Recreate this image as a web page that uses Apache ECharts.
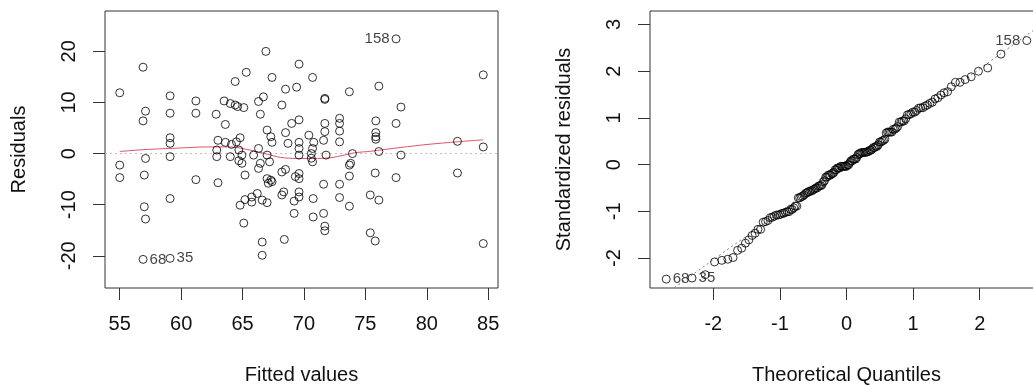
<!DOCTYPE html>
<html><head><meta charset="utf-8">
<script src="https://cdn.jsdelivr.net/npm/echarts@6/dist/echarts.min.js"></script>
<style>html,body{margin:0;padding:0;background:#fff}#c{width:1033px;height:385px}</style>
</head><body><div id="c"></div>
<script>
// ---- data (first three observations are the labelled ones: 158, 68, 35) ----
const outlierNames = ['158', '68', '35'];
const fittedValues = [
  77.5, 56.9, 59.1,
  55.0, 55.0, 55.0, 56.9, 57.1, 56.9, 57.1, 57.0, 57.0, 57.1,
  59.1, 59.1, 59.1, 59.1, 59.1, 59.1, 61.2, 61.2, 61.2,
  62.85, 63.6, 63.0, 63.6, 64.1, 64.5, 63.0, 62.9, 64.0, 64.7, 64.7, 62.9,
  64.4, 63.5, 64.0, 64.4, 64.6, 65.1,
  66.9, 69.6, 65.3, 67.4, 70.7, 68.5, 69.4, 73.7, 71.7, 71.7, 66.7, 66.3, 68.2, 66.45,
  69.0, 69.6, 71.7, 71.7, 72.9, 72.9, 72.9, 72.9, 67.0, 67.3, 67.4, 68.5, 68.7, 70.4,
  70.8, 69.6, 64.8, 66.3, 69.6, 70.7, 71.6,
  76.1, 77.9, 75.85, 77.5, 75.85, 75.85, 75.85, 82.5, 84.6, 76.1, 84.6, 77.9, 75.8,
  77.5, 82.5, 75.4, 76.1, 75.4, 75.8, 84.6,
  64.95, 64.95, 65.9, 66.45, 66.3, 67.0, 67.2, 69.6, 70.6, 70.6, 70.7, 71.8, 73.7, 73.95, 73.8,
  65.2, 67.0, 67.3, 67.4, 67.1, 68.2, 68.5, 69.3, 69.6, 69.6, 71.6, 72.9, 73.7,
  64.8, 65.2, 65.75, 65.75, 66.2, 66.6, 67.0, 68.2, 68.35, 69.2, 69.6, 69.6, 70.75, 72.9,
  73.7, 69.2, 70.75, 71.6, 71.7, 71.7, 65.1, 66.6, 66.6, 68.4
];
const residualValues = [
  22.45, -20.7, -20.5,
  11.9, -2.25, -4.7, 16.9, 8.3, 6.4, -0.95, -4.2, -10.4, -12.8,
  11.3, 7.9, 3.1, 2.0, -0.6, -8.8, 10.3, 7.9, -5.1,
  7.7, 5.7, 2.6, 2.2, 1.8, 2.3, -5.7, -0.6, -0.6, -1.4, 0.7, 0.7,
  14.1, 10.3, 9.8, 9.5, 9.2, 9.0,
  20.0, 17.5, 15.9, 14.9, 14.9, 12.6, 13.0, 12.1, 10.6, 10.8, 11.1, 10.2, 9.5, 7.7,
  5.9, 6.6, 5.9, 4.3, 6.9, 5.9, 4.4, 2.3, 4.6, 3.3, 2.2, 4.1, 2.0, 3.6,
  2.2, 2.2, 3.1, 1.0, 1.0, 1.0, 2.6,
  13.2, 9.1, 6.4, 5.9, 4.1, 3.3, 2.8, 2.4, 1.3, 0.4, 15.4, -0.3, -3.8,
  -4.7, -3.8, -8.1, -9.1, -15.5, -17.1, -17.6,
  -0.3, -1.9, -0.3, -1.9, -2.9, -0.3, -1.6, -0.3, 0.0, -0.9, -1.6, -0.3, -2.25, 0.0, -1.9,
  -4.2, -4.9, -5.2, -5.5, -5.8, -3.6, -3.1, -4.5, -3.9, -4.9, -6.0, -6.0, -4.4,
  -10.1, -9.0, -9.5, -8.5, -7.8, -9.1, -9.6, -8.1, -7.5, -9.3, -8.5, -7.5, -8.8, -8.6,
  -10.3, -11.7, -12.4, -11.7, -14.2, -15.1, -13.6, -17.3, -19.9, -16.8
];
// red smoother
const smoothFitted = [55.0, 56.5, 58.0, 60.0, 62.0, 64.0, 65.6, 67.0, 68.1, 69.4, 71.1, 72.2, 73.3, 74.1, 75.4, 77.9, 80.1, 82.5, 84.6];
const smoothResid  = [0.4, 0.7, 0.9, 1.1, 1.3, 1.3, 0.7, -0.1, -0.75, -0.95, -0.95, -0.8, -0.3, 0.15, 0.45, 1.2, 1.8, 2.3, 2.7];
const residualScale = 8.45;   // residual standard error used for standardizing
const fittedTicks = [55, 60, 65, 70, 75, 80, 85];
const residTicks = [-20, -10, 0, 10, 20];
const quantileTicks = [-2, -1, 0, 1, 2];
const stdResidTicks = [-2, -1, 0, 1, 2, 3];

// ---- helpers ----
function qnorm(p){
  const a=[-3.969683028665376e+01,2.209460984245205e+02,-2.759285104469687e+02,1.383577518672690e+02,-3.066479806614716e+01,2.506628277459239e+00];
  const b=[-5.447609879822406e+01,1.615858368580409e+02,-1.556989798598866e+02,6.680131188771972e+01,-1.328068155288572e+01];
  const c=[-7.784894002430293e-03,-3.223964580411365e-01,-2.400758277161838e+00,-2.549732539343734e+00,4.374664141464968e+00,2.938163982698783e+00];
  const d=[7.784695709041462e-03,3.224671290700398e-01,2.445134137142996e+00,3.754408661907416e+00];
  const pl=0.02425, ph=1-pl; let q, r;
  if(p<pl){q=Math.sqrt(-2*Math.log(p));return (((((c[0]*q+c[1])*q+c[2])*q+c[3])*q+c[4])*q+c[5])/((((d[0]*q+d[1])*q+d[2])*q+d[3])*q+1);}
  if(p>ph){q=Math.sqrt(-2*Math.log(1-p));return -(((((c[0]*q+c[1])*q+c[2])*q+c[3])*q+c[4])*q+c[5])/((((d[0]*q+d[1])*q+d[2])*q+d[3])*q+1);}
  q=p-0.5; r=q*q;
  return (((((a[0]*r+a[1])*r+a[2])*r+a[3])*r+a[4])*r+a[5])*q/(((((b[0]*r+b[1])*r+b[2])*r+b[3])*r+b[4])*r+1);
}
function quantile7(sorted, p){
  const h=(sorted.length-1)*p, lo=Math.floor(h), hi=Math.ceil(h);
  return sorted[lo]+(h-lo)*(sorted[hi]-sorted[lo]);
}

const TXT = '#111';
const FONT = 'Liberation Sans, Arial, Helvetica, sans-serif';
const circle = {color:'rgba(0,0,0,0)', borderColor:'#000', borderWidth:1};

// residuals vs fitted
const midX = (53.8 + 85.8) / 2;
const residData = fittedValues.map((f, i) => {
  const item = {value:[f, residualValues[i]]};
  if (i < outlierNames.length) {
    item.label = {show:true, formatter: outlierNames[i], position: f < midX ? 'right' : 'left',
                  distance: 2, color: TXT, fontSize: 15, fontFamily: FONT};
  }
  return item;
});
const smoothData = smoothFitted.map((f, i) => [f, smoothResid[i]]);

// normal Q-Q
const n = residualValues.length;
const order = residualValues.map((r, i) => i).sort((a, b) => residualValues[a] - residualValues[b]);
const qqData = order.map((idx, k) => {
  const item = {value:[qnorm((k + 0.5) / n), residualValues[idx] / residualScale]};
  if (idx < outlierNames.length) {
    item.label = {show:true, formatter: outlierNames[idx], position: item.value[0] < 0 ? 'right' : 'left',
                  distance: 2, color: TXT, fontSize: 15, fontFamily: FONT};
  }
  return item;
});
const stdSorted = order.map(i => residualValues[i] / residualScale);
const y25 = quantile7(stdSorted, 0.25), y75 = quantile7(stdSorted, 0.75);
const x25 = qnorm(0.25), x75 = qnorm(0.75);
const slope = (y75 - y25) / (x75 - x25), icpt = y25 - slope * x25;
const qqLine = [-3.5, 3.5].map(x => [x, icpt + slope * x]);

function xAx(idx, min, max, ticks, name){
  return {gridIndex: idx, type:'value', min, max, name, nameLocation:'middle', nameGap: 77,
    nameTextStyle:{color:TXT, fontSize:20, fontFamily:FONT},
    axisLine:{show:false, onZero:false}, splitLine:{show:false},
    axisTick:{show:true, length:12, inside:false, customValues: ticks, lineStyle:{color:'#333'}},
    axisLabel:{show:true, customValues: ticks, margin: 26, color:TXT, fontSize:20, fontFamily:FONT}};
}
function yAx(idx, min, max, ticks, name){
  return {gridIndex: idx, type:'value', min, max, name, nameLocation:'middle', nameGap: 76,
    nameTextStyle:{color:TXT, fontSize:20, fontFamily:FONT},
    axisLine:{show:false, onZero:false}, splitLine:{show:false},
    axisTick:{show:true, length:12, inside:false, customValues: ticks, lineStyle:{color:'#333'}},
    axisLabel:{show:true, customValues: ticks, rotate: 90, margin: 26, color:TXT, fontSize:20, fontFamily:FONT}};
}

const chart = echarts.init(document.getElementById('c'), null, {renderer:'canvas'});
chart.setOption({
  backgroundColor:'#fff',
  animation:false,
  grid:[
    {left:105, top:11, width:393, height:277, show:true, borderColor:'#333', borderWidth:1, backgroundColor:'transparent', outerBoundsMode:'none'},
    {left:650, top:11, width:393, height:277, show:true, borderColor:'#333', borderWidth:1, backgroundColor:'transparent', outerBoundsMode:'none'}
  ],
  xAxis:[ xAx(0, 53.8, 85.8, fittedTicks, 'Fitted values'), xAx(1, -2.95, 2.95, quantileTicks, 'Theoretical Quantiles') ],
  yAxis:[ yAx(0, -26.3, 27.9, residTicks, 'Residuals'), yAx(1, -2.64, 3.29, stdResidTicks, 'Standardized residuals') ],
  series:[
    {type:'line', xAxisIndex:0, yAxisIndex:0, data: [[53.8,0],[85.8,0]], showSymbol:false, silent:true,
     lineStyle:{color:'#bdbdbd', width:1, type:[2,3]}, z:1},
    {type:'scatter', xAxisIndex:0, yAxisIndex:0, data: residData, symbol:'circle', symbolSize:8,
     itemStyle: circle, z:3},
    {type:'line', xAxisIndex:0, yAxisIndex:0, data: smoothData, showSymbol:false, smooth:0.3, silent:true,
     lineStyle:{color:'#DF536B', width:1}, z:2},
    {type:'line', xAxisIndex:1, yAxisIndex:1, data: qqLine, showSymbol:false, silent:true, clip:true,
     lineStyle:{color:'#7f7f7f', width:1, type:[2,3]}, z:1},
    {type:'scatter', xAxisIndex:1, yAxisIndex:1, data: qqData, symbol:'circle', symbolSize:8,
     itemStyle: circle, z:3}
  ]
});
</script></body></html>
